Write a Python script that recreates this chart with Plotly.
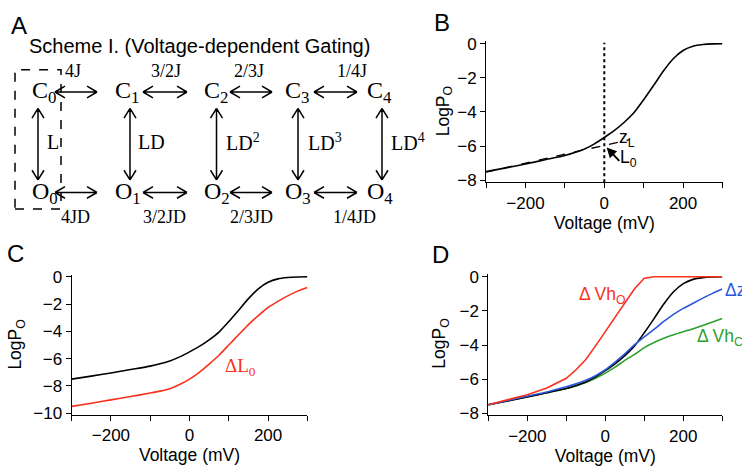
import plotly.graph_objects as go

W, H = 742, 471

# ---------------- data ----------------
voltage = [-300, -250, -200, -150, -100, -75, -50, -25, 0, 25, 50, 75, 100,
           125, 150, 175, 200, 225, 250, 275, 300]
logpo_control = [-7.5, -7.28, -7.05, -6.8, -6.55, -6.38, -6.17, -5.87, -5.5,
                 -5.1, -4.62, -4.05, -3.28, -2.45, -1.6, -0.88, -0.4, -0.15,
                 -0.05, -0.01, 0.0]
logpo_dL0 = [-9.5, -9.27, -9.02, -8.78, -8.52, -8.38, -8.2, -7.9, -7.5, -7.0,
             -6.4, -5.75, -5.0, -4.25, -3.5, -2.85, -2.25, -1.8, -1.4, -1.05,
             -0.78]
logpo_dVhO = [-7.5, -7.23, -6.92, -6.52, -5.95, -5.45, -4.85, -4.05, -3.2,
              -2.35, -1.5, -0.7, -0.08, 0.0, 0.0, 0.0, 0.0, 0.0, 0.0, 0.0,
              0.0]
logpo_dzJ = [-7.5, -7.25, -7.0, -6.75, -6.45, -6.28, -6.07, -5.8, -5.45,
             -5.0, -4.52, -3.98, -3.52, -3.08, -2.62, -2.2, -1.85, -1.55,
             -1.25, -0.97, -0.72]
logpo_dVhC = [-7.5, -7.27, -7.03, -6.8, -6.55, -6.4, -6.2, -5.95, -5.65,
              -5.3, -4.9, -4.55, -4.15, -3.85, -3.6, -3.4, -3.22, -3.05,
              -2.85, -2.65, -2.45]
zl_voltage = [-300, 65]
zl_logpo = [-7.52, -5.62]

x_ticks_major = 200
x_ticks_minor = 100

RED = "#f8321e"
BLUE = "#2a56dc"
GREEN = "#2ca02c"
SANS = "Liberation Sans, Arial, sans-serif"
SERIF = "Liberation Serif, Times New Roman, serif"


def px(x):
    return x / W


def py(y):
    return 1 - y / H


def dom_x(zero_px, scale, rng):
    return [px(zero_px + scale * rng[0]), px(zero_px + scale * rng[1])]


def dom_y(zero_px, scale, rng):
    return [py(zero_px - scale * rng[0]), py(zero_px - scale * rng[1])]


SMOOTH = dict(shape="spline", smoothing=0.6)

fig = go.Figure()

# Panel B
fig.add_trace(go.Scatter(x=zl_voltage, y=zl_logpo, mode="lines",
                         line=dict(color="black", width=1.3, dash="dash"),
                         xaxis="x", yaxis="y", showlegend=False))
fig.add_trace(go.Scatter(x=voltage, y=logpo_control, mode="lines",
                         line=dict(color="black", width=1.6, **SMOOTH),
                         xaxis="x", yaxis="y", showlegend=False))
# Panel C
fig.add_trace(go.Scatter(x=voltage, y=logpo_control, mode="lines",
                         line=dict(color="black", width=1.6, **SMOOTH),
                         xaxis="x2", yaxis="y2", showlegend=False))
fig.add_trace(go.Scatter(x=voltage, y=logpo_dL0, mode="lines",
                         line=dict(color=RED, width=1.6, **SMOOTH),
                         xaxis="x2", yaxis="y2", showlegend=False))
# Panel D
fig.add_trace(go.Scatter(x=voltage, y=logpo_dVhC, mode="lines",
                         line=dict(color=GREEN, width=1.6, **SMOOTH),
                         xaxis="x3", yaxis="y3", showlegend=False))
fig.add_trace(go.Scatter(x=voltage, y=logpo_control, mode="lines",
                         line=dict(color="black", width=1.6, **SMOOTH),
                         xaxis="x3", yaxis="y3", showlegend=False))
fig.add_trace(go.Scatter(x=voltage, y=logpo_dzJ, mode="lines",
                         line=dict(color=BLUE, width=1.6, **SMOOTH),
                         xaxis="x3", yaxis="y3", showlegend=False))
fig.add_trace(go.Scatter(x=voltage, y=logpo_dVhO, mode="lines",
                         line=dict(color=RED, width=1.6),
                         xaxis="x3", yaxis="y3", showlegend=False))

tickfont = dict(family=SANS, size=17, color="black")
titlefont = dict(family=SANS, size=17.5, color="black")


def xax(domain, anchor):
    return dict(domain=domain, anchor=anchor, range=[-300, 300],
                tick0=0, dtick=x_ticks_major, ticks="outside", ticklen=5,
                tickwidth=1, tickcolor="black", showline=True,
                linecolor="black", linewidth=1, showgrid=False,
                zeroline=False, tickfont=tickfont,
                minor=dict(ticks="outside", dtick=x_ticks_minor, ticklen=5,
                           tickwidth=1, tickcolor="black", showgrid=False),
                title=dict(text="Voltage (mV)", font=titlefont, standoff=2))


def yax(domain, anchor, rng, dtick):
    return dict(domain=domain, anchor=anchor, range=rng, dtick=dtick,
                tick0=0, ticks="outside", ticklen=5, tickwidth=1,
                tickcolor="black", showline=True, linecolor="black",
                linewidth=1, showgrid=False, zeroline=False,
                tickfont=tickfont)


rB = [-8.12, 0.15]
rC = [-10.1, 0.15]
rD = [-8.12, 0.15]

fig.update_layout(
    width=W, height=H,
    margin=dict(l=0, r=0, t=0, b=0),
    paper_bgcolor="white", plot_bgcolor="white",
    xaxis=xax(dom_x(604.3, 0.394, [-300, 300]), "y"),
    yaxis=yax(dom_y(38, 17.66, rB), "x", rB, 2),
    xaxis2=xax(dom_x(189.5, 0.393, [-300, 300]), "y2"),
    yaxis2=yax(dom_y(279.3, 14.12, rC), "x2", rC, 2),
    xaxis3=xax(dom_x(605.3, 0.39, [-300, 300]), "y3"),
    yaxis3=yax(dom_y(279.3, 17.65, rD), "x3", rD, 2),
)

shapes = []
annotations = []


def ptext(text, x, y, font, xanchor="center", yanchor="middle", angle=0):
    annotations.append(dict(text=text, x=px(x), y=py(y), xref="paper",
                            yref="paper", xanchor=xanchor, yanchor=yanchor,
                            showarrow=False, textangle=angle, font=font))


# y-axis titles
for (xc, yc) in [(444, 108), (16.5, 350), (440.5, 349)]:
    ptext("LogP<sub>O</sub>", xc, yc, titlefont, angle=-90)

# dotted line at V = 0 in panel B
shapes.append(dict(type="line", xref="x", yref="y", x0=0, x1=0,
                   y0=rB[0], y1=0.05,
                   line=dict(color="black", width=2, dash="dot")))

# panel letters
letterfont = dict(family=SANS, size=24, color="black")
for letter, (lx, ly) in {"A": (18.5, 19), "B": (441.5, 16),
                          "C": (15.5, 255), "D": (440, 256)}.items():
    ptext(letter, lx, ly, letterfont)

ptext("Scheme I. (Voltage-dependent Gating)", 27, 40,
      dict(family=SANS, size=20, color="black"), xanchor="left")

# ---------- scheme ----------
statefont = dict(family=SERIF, size=24, color="black")
state_left = [30, 113, 201.5, 283, 365]
for i, xl in enumerate(state_left):
    ptext(f"C<sub>{i}</sub>", xl, 88, statefont, xanchor="left")
    ptext(f"O<sub>{i}</sub>", xl, 193, statefont, xanchor="left")

ratefont = dict(family=SERIF, size=18, color="black")
top_rates = [("4J", 73), ("3/2J", 166), ("2/3J", 249), ("1/4J", 352)]
bot_rates = [("4JD", 75), ("3/2JD", 164), ("2/3JD", 251), ("1/4JD", 354)]
for t, xc in top_rates:
    ptext(t, xc, 66, ratefont)
for t, xc in bot_rates:
    ptext(t, xc, 217, ratefont)

ldfont = dict(family=SERIF, size=20, color="black")
vert_labels = [("L", 44.5), ("LD", 136), ("LD<sup>2</sup>", 224),
               ("LD<sup>3</sup>", 306), ("LD<sup>4</sup>", 389)]
for t, xl in vert_labels:
    ptext(t, xl, 140, ldfont, xanchor="left")

AL, AW = 10, 6  # arrowhead length / half-width in px


def hpath(x1, x2, y):
    return [(x1, y, x2, y),
            (x1 + AL, y - AW, x1, y), (x1, y, x1 + AL, y + AW),
            (x2 - AL, y - AW, x2, y), (x2, y, x2 - AL, y + AW)]


def vpath(x, y1, y2):
    return [(x, y1, x, y2),
            (x - AW, y1 + AL, x, y1), (x, y1, x + AW, y1 + AL),
            (x - AW, y2 - AL, x, y2), (x, y2, x + AW, y2 - AL)]


def to_path(segs):
    s = ""
    for (a, b, c, d) in segs:
        s += f"M{px(a):.5f},{py(b):.5f} L{px(c):.5f},{py(d):.5f} "
    return s


h_arrows = [(55, 97), (143, 187), (230, 272), (314, 357)]
segs = []
for (a, b) in h_arrows:
    segs += hpath(a, b, 88)
    segs += hpath(a, b, 192)
for xv in [38, 130, 216.5, 298, 382]:
    segs += vpath(xv, 105, 179)
shapes.append(dict(type="path", xref="paper", yref="paper",
                   path=to_path(segs),
                   line=dict(color="black", width=1.5)))

# dashed box around C0/O0
shapes.append(dict(type="rect", xref="paper", yref="paper",
                   x0=px(15), x1=px(61), y0=py(209), y1=py(65),
                   line=dict(color="black", width=1.5, dash="dash")))

# ---------- panel B annotations ----------
annotations.append(dict(text="z<sub>L</sub>", x=33, y=-5.55, xref="x",
                        yref="y", xanchor="left", yanchor="middle",
                        showarrow=False, font=titlefont))
annotations.append(dict(text="L<sub>0</sub>", x=36, y=-6.7, xref="x",
                        yref="y", xanchor="left", yanchor="middle",
                        showarrow=False, font=titlefont))
annotations.append(dict(text="", x=6, y=-6.08, xref="x", yref="y",
                        ax=14, ay=15, axref="pixel", ayref="pixel",
                        showarrow=True, arrowhead=2, arrowsize=1,
                        arrowwidth=2, arrowcolor="black"))

# ---------- panel C / D annotations ----------
annotations.append(dict(text="ΔL<sub>0</sub>", x=85, y=-6.6, xref="x2",
                        yref="y2", xanchor="left", yanchor="middle",
                        showarrow=False,
                        font=dict(family=SERIF, size=19, color=RED)))
annotations.append(dict(text="Δ Vh<sub>O</sub>", x=-73, y=-1.1, xref="x3",
                        yref="y3", xanchor="left", yanchor="middle",
                        showarrow=False,
                        font=dict(family=SANS, size=17.5, color=RED)))
ptext("Δz<sub>J</sub>", 723, 295, dict(family=SANS, size=17.5, color=BLUE),
      xanchor="left")
annotations.append(dict(text="Δ Vh<sub>C</sub>", x=230, y=-3.55, xref="x3",
                        yref="y3", xanchor="left", yanchor="middle",
                        showarrow=False,
                        font=dict(family=SANS, size=17.5, color=GREEN)))

fig.update_layout(shapes=shapes, annotations=annotations)
fig.write_html(
    "out.html",
    config={"displayModeBar": False},
    post_script="document.body.style.margin='0';"
                "document.body.style.overflow='hidden';")
